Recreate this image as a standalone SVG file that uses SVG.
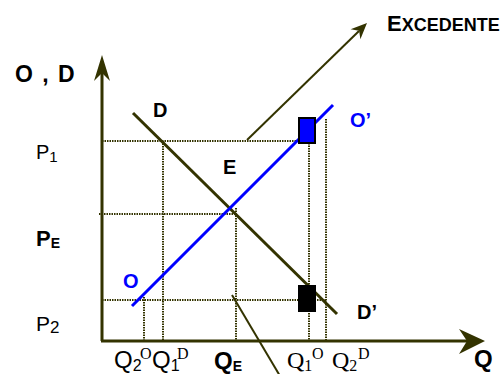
<svg xmlns="http://www.w3.org/2000/svg" width="504" height="374" viewBox="0 0 504 374">
<style>
.ax{stroke:#333300;stroke-width:3;fill:none}
.ah{fill:#333300;stroke:none}
.dot{stroke:#333300;stroke-width:2;stroke-dasharray:1.5 1;fill:none}
.ln{stroke:#333300;stroke-width:3;fill:none}
.thin{stroke:#333300;stroke-width:2;fill:none}
.sup{stroke:#0000ff;stroke-width:3;fill:none}
.t{font-family:"Liberation Sans",Arial,sans-serif;fill:#000}
.b{font-weight:bold}
.s{font-family:"Liberation Serif","Times New Roman",serif;fill:#000}
.blue{fill:#0000ff}
</style>
<rect width="504" height="374" fill="#fff"/>
<g id="guides">
<line class="dot" x1="102" y1="141" x2="299" y2="141"/>
<line class="dot" x1="99" y1="214" x2="236" y2="214"/>
<line class="dot" x1="102" y1="300" x2="326" y2="300"/>
<line class="dot" x1="144" y1="297" x2="144" y2="340"/>
<line class="dot" x1="163" y1="141" x2="163" y2="340"/>
<line class="dot" x1="236" y1="208" x2="236" y2="340"/>
<line class="dot" x1="309" y1="143" x2="309" y2="340"/>
<line class="dot" x1="326" y1="119" x2="326" y2="340"/>
</g>
<g id="axes">
<line class="ax" x1="102" y1="70" x2="102" y2="341"/>
<line class="ax" x1="101" y1="341" x2="472" y2="341"/>
<path class="ah" d="M102,55 L110,81 L102,73 L94,81 Z"/>
<path class="ah" d="M485,341 L459,329 L467,341 L459,354 Z"/>
</g>
<g id="connectors">
<line class="thin" x1="247" y1="140" x2="359" y2="31"/>
<path class="ah" d="M367,23 L360.4,39.2 L359.1,30.7 L350.6,29.2 Z"/>
<line class="thin" x1="232" y1="295" x2="280" y2="376"/>
</g>
<g id="demand">
<line class="ln" x1="133" y1="113" x2="337" y2="314"/>
</g>
<g id="supply">
<line class="sup" x1="132" y1="306" x2="333" y2="105"/>
</g>
<g id="box-excess-supply">
<rect x="299" y="118" width="16" height="25" fill="#0000ff" stroke="#000" stroke-width="2"/>
</g>
<g id="box-excess-demand">
<rect x="298" y="285" width="18" height="27" fill="#000"/>
</g>
<g id="labels">
<text class="t b" x="15" y="82" font-size="23" letter-spacing="1.5">O , D</text>
<text class="t b" x="387" y="31" font-size="22">E<tspan font-size="18">XCEDENTE</tspan></text>
<text class="t b" x="153" y="117" font-size="20">D</text>
<text class="t b" x="223" y="174" font-size="20">E</text>
<text class="t b blue" x="350" y="127" font-size="20">O’</text>
<text class="t b blue" x="123" y="288" font-size="20">O</text>
<text class="t b" x="357" y="319" font-size="20">D’</text>
<text class="t" x="36" y="159" font-size="20">P<tspan font-size="15" dy="3">1</tspan></text>
<text class="t b" x="36" y="246" font-size="22">P<tspan font-size="14" dy="2">E</tspan></text>
<text class="t" x="36" y="331" font-size="21">P<tspan font-size="17" dy="2">2</tspan></text>
<text class="t b" x="474" y="367" font-size="24">Q</text>
<text class="t" x="114" y="368" font-size="24">Q<tspan font-size="16" dy="3">2</tspan></text>
<text class="s" x="140" y="359" font-size="16">O</text>
<text class="t" x="152" y="368" font-size="24">Q<tspan font-size="16" dy="3">1</tspan></text>
<text class="s" x="177" y="359" font-size="16">D</text>
<text class="t b" x="214" y="369" font-size="24">Q<tspan font-size="14" dy="2">E</tspan></text>
<text class="s" x="287" y="368" font-size="24">Q<tspan font-size="16" dy="3">1</tspan></text>
<text class="s" x="312" y="359" font-size="16">O</text>
<text class="s" x="332" y="368" font-size="24">Q<tspan font-size="16" dy="3">2</tspan></text>
<text class="s" x="358" y="359" font-size="16">D</text>
</g>
</svg>
